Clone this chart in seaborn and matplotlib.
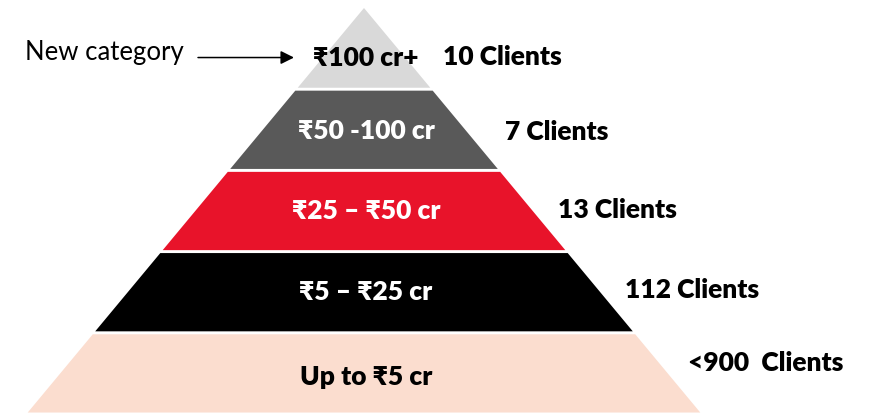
import matplotlib.pyplot as plt
import numpy as np
import seaborn as sns

# pyramid tiers, top to bottom
tiers = ["₹100 cr+", "₹50 -100 cr", "₹25 – ₹50 cr", "₹5 – ₹25 cr", "Up to ₹5 cr"]
clients = ["10 Clients", "7 Clients", "13 Clients", "112 Clients", "<900  Clients"]
tier_colors = ["#D9D9D9", "#595959", "#E8132A", "#000000", "#FBDDCF"]
text_colors = ["black", "white", "white", "white", "black"]

# layout (pixel-like x, tier units for y)
center_x = 364
slope = 67.5          # half-width growth per tier
gap = 0.018
label_y = [0.61, 0.52, 0.50, 0.50, 0.55]
client_x = [443, 505, 558, 625, 688]
client_y = [0.6, 0.53, 0.49, 0.47, 0.37]

sns.set_theme(style="white")
plt.rcParams["font.family"] = ["Lato", "Noto Sans", "DejaVu Sans"]

fig = plt.figure(figsize=(8.79, 4.13), dpi=100)
ax = fig.add_axes([0, 0, 1, 1])
ax.set_xlim(0, 879)
ax.set_ylim(405 / 81.2, -8 / 81.2)
ax.axis("off")

for i, (name, color) in enumerate(zip(tiers, tier_colors)):
    y0 = i + (gap if i > 0 else 0)
    y1 = i + 1 - gap
    xs = [center_x - slope * y0, center_x + slope * y0,
          center_x + slope * y1, center_x - slope * y1]
    ys = [y0, y0, y1, y1]
    ax.fill(xs, ys, color=color, lw=0)
    ax.text(center_x + 2, i + label_y[i], name, ha="center", va="center",
            fontsize=19, fontweight="heavy", color=text_colors[i])
    ax.text(client_x[i], i + client_y[i], clients[i], ha="left", va="center",
            fontsize=19, fontweight="heavy", color="black")

ax.text(25, 0.55, "New category", ha="left", va="center", fontsize=18.5, color="black")
ax.annotate("", xy=(294, 0.61), xytext=(198, 0.61),
            arrowprops=dict(arrowstyle="-|>", color="black", lw=1.1,
                            mutation_scale=20, shrinkA=0, shrinkB=0))

fig.savefig("out.png", dpi=100)
